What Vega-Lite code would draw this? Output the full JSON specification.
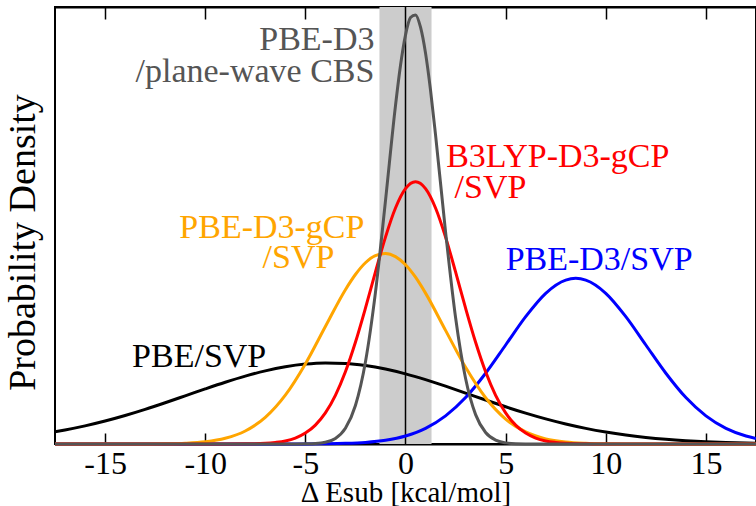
{
  "$schema": "https://vega.github.io/schema/vega-lite/v6.json",
  "width": 701,
  "height": 437,
  "autosize": "none",
  "padding": {"left": 55, "top": 7, "right": 0, "bottom": 62},
  "background": "#ffffff",
  "config": {
    "view": {"stroke": "#000000", "strokeWidth": 2},
    "font": "Liberation Serif, Times New Roman, serif",
    "axis": {"grid": false, "titleFontWeight": "normal", "titleColor": "#000000", "labelColor": "#000000", "tickColor": "#000000", "domainColor": "#000000"}
  },
  "datasets": {
    "curves": [
      {"s": "PBE/SVP", "x": -17.5, "y": 0.00856}, {"s": "PBE/SVP", "x": -17, "y": 0.00981}, {"s": "PBE/SVP", "x": -16, "y": 0.01266}, {"s": "PBE/SVP", "x": -15, "y": 0.01602}, {"s": "PBE/SVP", "x": -14, "y": 0.01987}, {"s": "PBE/SVP", "x": -13, "y": 0.02416}, {"s": "PBE/SVP", "x": -12, "y": 0.02878}, {"s": "PBE/SVP", "x": -11, "y": 0.0336}, {"s": "PBE/SVP", "x": -10, "y": 0.03845}, {"s": "PBE/SVP", "x": -9, "y": 0.04312}, {"s": "PBE/SVP", "x": -8, "y": 0.0474}, {"s": "PBE/SVP", "x": -7, "y": 0.05106}, {"s": "PBE/SVP", "x": -6, "y": 0.05391}, {"s": "PBE/SVP", "x": -5, "y": 0.05579}, {"s": "PBE/SVP", "x": -4, "y": 0.05658}, {"s": "PBE/SVP", "x": -3, "y": 0.05624}, {"s": "PBE/SVP", "x": -2, "y": 0.05478}, {"s": "PBE/SVP", "x": -1, "y": 0.05231}, {"s": "PBE/SVP", "x": 0, "y": 0.04895}, {"s": "PBE/SVP", "x": 1, "y": 0.04489}, {"s": "PBE/SVP", "x": 2, "y": 0.04035}, {"s": "PBE/SVP", "x": 3, "y": 0.03555}, {"s": "PBE/SVP", "x": 4, "y": 0.03069}, {"s": "PBE/SVP", "x": 5, "y": 0.02597}, {"s": "PBE/SVP", "x": 6, "y": 0.02154}, {"s": "PBE/SVP", "x": 7, "y": 0.01751}, {"s": "PBE/SVP", "x": 8, "y": 0.01395}, {"s": "PBE/SVP", "x": 9, "y": 0.01089}, {"s": "PBE/SVP", "x": 10, "y": 0.00833}, {"s": "PBE/SVP", "x": 11, "y": 0.00625}, {"s": "PBE/SVP", "x": 12, "y": 0.0046}, {"s": "PBE/SVP", "x": 13, "y": 0.00331}, {"s": "PBE/SVP", "x": 14, "y": 0.00234}, {"s": "PBE/SVP", "x": 15, "y": 0.00162}, {"s": "PBE/SVP", "x": 16, "y": 0.0011}, {"s": "PBE/SVP", "x": 17, "y": 0.00073}, {"s": "PBE/SVP", "x": 17.5, "y": 0.00059},

      {"s": "PBE-D3/SVP", "x": -17.5, "y": 0}, {"s": "PBE-D3/SVP", "x": -7, "y": 0.00001}, {"s": "PBE-D3/SVP", "x": -5, "y": 0.00005}, {"s": "PBE-D3/SVP", "x": -4, "y": 0.00016}, {"s": "PBE-D3/SVP", "x": -3, "y": 0.00045}, {"s": "PBE-D3/SVP", "x": -2, "y": 0.00113}, {"s": "PBE-D3/SVP", "x": -1, "y": 0.00261}, {"s": "PBE-D3/SVP", "x": 0, "y": 0.00556}, {"s": "PBE-D3/SVP", "x": 1, "y": 0.01088}, {"s": "PBE-D3/SVP", "x": 2, "y": 0.0196}, {"s": "PBE-D3/SVP", "x": 3, "y": 0.0324}, {"s": "PBE-D3/SVP", "x": 4, "y": 0.0494}, {"s": "PBE-D3/SVP", "x": 5, "y": 0.0691}, {"s": "PBE-D3/SVP", "x": 6, "y": 0.0889}, {"s": "PBE-D3/SVP", "x": 7, "y": 0.1052}, {"s": "PBE-D3/SVP", "x": 8, "y": 0.1144}, {"s": "PBE-D3/SVP", "x": 8.5, "y": 0.1156}, {"s": "PBE-D3/SVP", "x": 9, "y": 0.1144}, {"s": "PBE-D3/SVP", "x": 10, "y": 0.1052}, {"s": "PBE-D3/SVP", "x": 11, "y": 0.0889}, {"s": "PBE-D3/SVP", "x": 12, "y": 0.0691}, {"s": "PBE-D3/SVP", "x": 13, "y": 0.0494}, {"s": "PBE-D3/SVP", "x": 14, "y": 0.0324}, {"s": "PBE-D3/SVP", "x": 15, "y": 0.0196}, {"s": "PBE-D3/SVP", "x": 16, "y": 0.01088}, {"s": "PBE-D3/SVP", "x": 17, "y": 0.00556}, {"s": "PBE-D3/SVP", "x": 17.5, "y": 0.00385},

      {"s": "PBE-D3-gCP/SVP", "x": -17.5, "y": 0}, {"s": "PBE-D3-gCP/SVP", "x": -14, "y": 0.00001}, {"s": "PBE-D3-gCP/SVP", "x": -13, "y": 0.00005}, {"s": "PBE-D3-gCP/SVP", "x": -12, "y": 0.00017}, {"s": "PBE-D3-gCP/SVP", "x": -11, "y": 0.00054}, {"s": "PBE-D3-gCP/SVP", "x": -10, "y": 0.00155}, {"s": "PBE-D3-gCP/SVP", "x": -9, "y": 0.004}, {"s": "PBE-D3-gCP/SVP", "x": -8, "y": 0.0091}, {"s": "PBE-D3-gCP/SVP", "x": -7, "y": 0.0186}, {"s": "PBE-D3-gCP/SVP", "x": -6, "y": 0.0341}, {"s": "PBE-D3-gCP/SVP", "x": -5, "y": 0.0559}, {"s": "PBE-D3-gCP/SVP", "x": -4, "y": 0.082}, {"s": "PBE-D3-gCP/SVP", "x": -3, "y": 0.1077}, {"s": "PBE-D3-gCP/SVP", "x": -2.5, "y": 0.1183}, {"s": "PBE-D3-gCP/SVP", "x": -2, "y": 0.1265}, {"s": "PBE-D3-gCP/SVP", "x": -1.5, "y": 0.1315}, {"s": "PBE-D3-gCP/SVP", "x": -1, "y": 0.133}, {"s": "PBE-D3-gCP/SVP", "x": -0.5, "y": 0.1308}, {"s": "PBE-D3-gCP/SVP", "x": 0, "y": 0.1251}, {"s": "PBE-D3-gCP/SVP", "x": 0.5, "y": 0.1164}, {"s": "PBE-D3-gCP/SVP", "x": 1, "y": 0.1053}, {"s": "PBE-D3-gCP/SVP", "x": 2, "y": 0.0793}, {"s": "PBE-D3-gCP/SVP", "x": 3, "y": 0.0535}, {"s": "PBE-D3-gCP/SVP", "x": 4, "y": 0.0323}, {"s": "PBE-D3-gCP/SVP", "x": 5, "y": 0.0174}, {"s": "PBE-D3-gCP/SVP", "x": 6, "y": 0.0084}, {"s": "PBE-D3-gCP/SVP", "x": 7, "y": 0.0036}, {"s": "PBE-D3-gCP/SVP", "x": 8, "y": 0.0014}, {"s": "PBE-D3-gCP/SVP", "x": 9, "y": 0.0005}, {"s": "PBE-D3-gCP/SVP", "x": 10, "y": 0.00015}, {"s": "PBE-D3-gCP/SVP", "x": 11, "y": 0.00004}, {"s": "PBE-D3-gCP/SVP", "x": 17.5, "y": 0},

      {"s": "B3LYP-D3-gCP/SVP", "x": -17.5, "y": 0}, {"s": "B3LYP-D3-gCP/SVP", "x": -9, "y": 0.00001}, {"s": "B3LYP-D3-gCP/SVP", "x": -8, "y": 0.00009}, {"s": "B3LYP-D3-gCP/SVP", "x": -7, "y": 0.0005}, {"s": "B3LYP-D3-gCP/SVP", "x": -6.5, "y": 0.0011}, {"s": "B3LYP-D3-gCP/SVP", "x": -6, "y": 0.0021}, {"s": "B3LYP-D3-gCP/SVP", "x": -5.5, "y": 0.0041}, {"s": "B3LYP-D3-gCP/SVP", "x": -5, "y": 0.0076}, {"s": "B3LYP-D3-gCP/SVP", "x": -4.5, "y": 0.0132}, {"s": "B3LYP-D3-gCP/SVP", "x": -4, "y": 0.0217}, {"s": "B3LYP-D3-gCP/SVP", "x": -3.5, "y": 0.034}, {"s": "B3LYP-D3-gCP/SVP", "x": -3, "y": 0.0504}, {"s": "B3LYP-D3-gCP/SVP", "x": -2.5, "y": 0.071}, {"s": "B3LYP-D3-gCP/SVP", "x": -2, "y": 0.0948}, {"s": "B3LYP-D3-gCP/SVP", "x": -1.5, "y": 0.1201}, {"s": "B3LYP-D3-gCP/SVP", "x": -1, "y": 0.1444}, {"s": "B3LYP-D3-gCP/SVP", "x": -0.5, "y": 0.1647}, {"s": "B3LYP-D3-gCP/SVP", "x": 0, "y": 0.1782}, {"s": "B3LYP-D3-gCP/SVP", "x": 0.5, "y": 0.183}, {"s": "B3LYP-D3-gCP/SVP", "x": 1, "y": 0.1782}, {"s": "B3LYP-D3-gCP/SVP", "x": 1.5, "y": 0.1647}, {"s": "B3LYP-D3-gCP/SVP", "x": 2, "y": 0.1444}, {"s": "B3LYP-D3-gCP/SVP", "x": 2.5, "y": 0.1201}, {"s": "B3LYP-D3-gCP/SVP", "x": 3, "y": 0.0948}, {"s": "B3LYP-D3-gCP/SVP", "x": 3.5, "y": 0.071}, {"s": "B3LYP-D3-gCP/SVP", "x": 4, "y": 0.0504}, {"s": "B3LYP-D3-gCP/SVP", "x": 4.5, "y": 0.034}, {"s": "B3LYP-D3-gCP/SVP", "x": 5, "y": 0.0217}, {"s": "B3LYP-D3-gCP/SVP", "x": 5.5, "y": 0.0132}, {"s": "B3LYP-D3-gCP/SVP", "x": 6, "y": 0.0076}, {"s": "B3LYP-D3-gCP/SVP", "x": 6.5, "y": 0.0041}, {"s": "B3LYP-D3-gCP/SVP", "x": 7, "y": 0.0021}, {"s": "B3LYP-D3-gCP/SVP", "x": 7.5, "y": 0.0011}, {"s": "B3LYP-D3-gCP/SVP", "x": 8, "y": 0.0005}, {"s": "B3LYP-D3-gCP/SVP", "x": 9, "y": 0.00009}, {"s": "B3LYP-D3-gCP/SVP", "x": 10, "y": 0.00001}, {"s": "B3LYP-D3-gCP/SVP", "x": 17.5, "y": 0},

      {"s": "PBE-D3/plane-wave CBS", "x": -17.5, "y": 0}, {"s": "PBE-D3/plane-wave CBS", "x": -5.5, "y": 0.00001}, {"s": "PBE-D3/plane-wave CBS", "x": -5, "y": 0.0001}, {"s": "PBE-D3/plane-wave CBS", "x": -4.5, "y": 0.00032}, {"s": "PBE-D3/plane-wave CBS", "x": -4, "y": 0.0012}, {"s": "PBE-D3/plane-wave CBS", "x": -3.5, "y": 0.0039}, {"s": "PBE-D3/plane-wave CBS", "x": -3, "y": 0.011}, {"s": "PBE-D3/plane-wave CBS", "x": -2.5, "y": 0.0269}, {"s": "PBE-D3/plane-wave CBS", "x": -2, "y": 0.0573}, {"s": "PBE-D3/plane-wave CBS", "x": -1.5, "y": 0.1058}, {"s": "PBE-D3/plane-wave CBS", "x": -1, "y": 0.1697}, {"s": "PBE-D3/plane-wave CBS", "x": -0.5, "y": 0.2362}, {"s": "PBE-D3/plane-wave CBS", "x": -0.25, "y": 0.2642}, {"s": "PBE-D3/plane-wave CBS", "x": 0, "y": 0.2854}, {"s": "PBE-D3/plane-wave CBS", "x": 0.25, "y": 0.2976}, {"s": "PBE-D3/plane-wave CBS", "x": 0.5, "y": 0.2995}, {"s": "PBE-D3/plane-wave CBS", "x": 0.75, "y": 0.2909}, {"s": "PBE-D3/plane-wave CBS", "x": 1, "y": 0.2728}, {"s": "PBE-D3/plane-wave CBS", "x": 1.25, "y": 0.2469}, {"s": "PBE-D3/plane-wave CBS", "x": 1.5, "y": 0.2158}, {"s": "PBE-D3/plane-wave CBS", "x": 2, "y": 0.1481}, {"s": "PBE-D3/plane-wave CBS", "x": 2.5, "y": 0.0883}, {"s": "PBE-D3/plane-wave CBS", "x": 3, "y": 0.0457}, {"s": "PBE-D3/plane-wave CBS", "x": 3.5, "y": 0.0205}, {"s": "PBE-D3/plane-wave CBS", "x": 4, "y": 0.008}, {"s": "PBE-D3/plane-wave CBS", "x": 4.5, "y": 0.0027}, {"s": "PBE-D3/plane-wave CBS", "x": 5, "y": 0.0008}, {"s": "PBE-D3/plane-wave CBS", "x": 5.5, "y": 0.0002}, {"s": "PBE-D3/plane-wave CBS", "x": 6, "y": 0.00005}, {"s": "PBE-D3/plane-wave CBS", "x": 6.5, "y": 0.00001}, {"s": "PBE-D3/plane-wave CBS", "x": 17.5, "y": 0}
    ],
    "band": [{"lo": -1.3, "hi": 1.3}],
    "zero": [{"x": 0}],
    "labelsRight": [
      {"s": "PBE-D3/plane-wave CBS", "t": "PBE-D3", "x": -1.55, "y": 0.2748},
      {"s": "PBE-D3/plane-wave CBS", "t": "/plane-wave CBS", "x": -1.55, "y": 0.2527},
      {"s": "PBE-D3-gCP/SVP", "t": "PBE-D3-gCP", "x": -2.05, "y": 0.1435},
      {"s": "PBE-D3-gCP/SVP", "t": "/SVP", "x": -3.55, "y": 0.1226}
    ],
    "labelsLeft": [
      {"s": "B3LYP-D3-gCP/SVP", "t": "B3LYP-D3-gCP", "x": 2.03, "y": 0.1934},
      {"s": "B3LYP-D3-gCP/SVP", "t": "/SVP", "x": 2.45, "y": 0.1714},
      {"s": "PBE-D3/SVP", "t": "PBE-D3/SVP", "x": 5.0, "y": 0.1214},
      {"s": "PBE/SVP", "t": "PBE/SVP", "x": -13.65, "y": 0.0535}
    ]
  },
  "resolve": {"axis": {"x": "independent", "y": "independent"}},
  "layer": [
    {
      "data": {"name": "band"},
      "mark": {"type": "rect", "color": "#cccccc"},
      "encoding": {
        "x": {
          "field": "lo", "type": "quantitative",
          "scale": {"domain": [-17.5, 17.5], "nice": false, "zero": false},
          "axis": {
            "orient": "bottom",
            "values": [-15, -10, -5, 0, 5, 10, 15],
            "tickSize": -11, "tickWidth": 1.5, "domainWidth": 2,
            "labelFont": "Liberation Serif, Times New Roman, serif", "labelFontSize": 32, "labelPadding": 15,
            "labelExpr": "datum.value < 0 ? '-' + abs(datum.value) : '' + datum.value",
            "title": "Δ Esub [kcal/mol]",
            "titleFont": "Liberation Serif, Times New Roman, serif", "titleFontSize": 29,
            "titleY": 57, "titleBaseline": "alphabetic"
          }
        },
        "x2": {"field": "hi"}
      }
    },
    {
      "data": {"name": "zero"},
      "mark": {"type": "rule", "color": "#000000", "strokeWidth": 1.5},
      "encoding": {"x": {"field": "x", "type": "quantitative", "axis": null}}
    },
    {
      "data": {"name": "curves"},
      "mark": {"type": "line", "strokeWidth": 3, "interpolate": "monotone"},
      "encoding": {
        "x": {
          "field": "x", "type": "quantitative",
          "axis": {
            "orient": "top", "values": [-15, -10, -5, 0, 5, 10, 15],
            "tickSize": -12, "tickWidth": 1.5, "domainWidth": 2,
            "labels": false, "title": null
          }
        },
        "y": {
          "field": "y", "type": "quantitative",
          "scale": {"domain": [0, 0.305], "nice": false},
          "axis": {
            "title": "Probability Density", "orient": "left",
            "ticks": false, "labels": false, "domain": false,
            "titleFont": "Liberation Serif, Times New Roman, serif", "titleFontSize": 38,
            "titleX": -21, "titleY": 235, "titleAngle": -90,
            "titleAlign": "center", "titleBaseline": "alphabetic"
          }
        },
        "color": {
          "field": "s", "type": "nominal", "legend": null,
          "scale": {
            "domain": ["PBE/SVP", "PBE-D3/SVP", "PBE-D3-gCP/SVP", "B3LYP-D3-gCP/SVP", "PBE-D3/plane-wave CBS"],
            "range": ["#000000", "#0000ff", "#ffa500", "#ff0000", "#555555"]
          }
        }
      }
    },
    {
      "data": {"name": "labelsRight"},
      "mark": {"type": "text", "align": "right", "baseline": "alphabetic", "font": "Liberation Serif, Times New Roman, serif", "fontSize": 34},
      "encoding": {
        "x": {"field": "x", "type": "quantitative", "axis": null},
        "y": {"field": "y", "type": "quantitative", "axis": null},
        "text": {"field": "t"},
        "color": {"field": "s", "type": "nominal", "legend": null}
      }
    },
    {
      "data": {"name": "labelsLeft"},
      "mark": {"type": "text", "align": "left", "baseline": "alphabetic", "font": "Liberation Serif, Times New Roman, serif", "fontSize": 34},
      "encoding": {
        "x": {"field": "x", "type": "quantitative", "axis": null},
        "y": {"field": "y", "type": "quantitative", "axis": null},
        "text": {"field": "t"},
        "color": {"field": "s", "type": "nominal", "legend": null}
      }
    }
  ]
}
